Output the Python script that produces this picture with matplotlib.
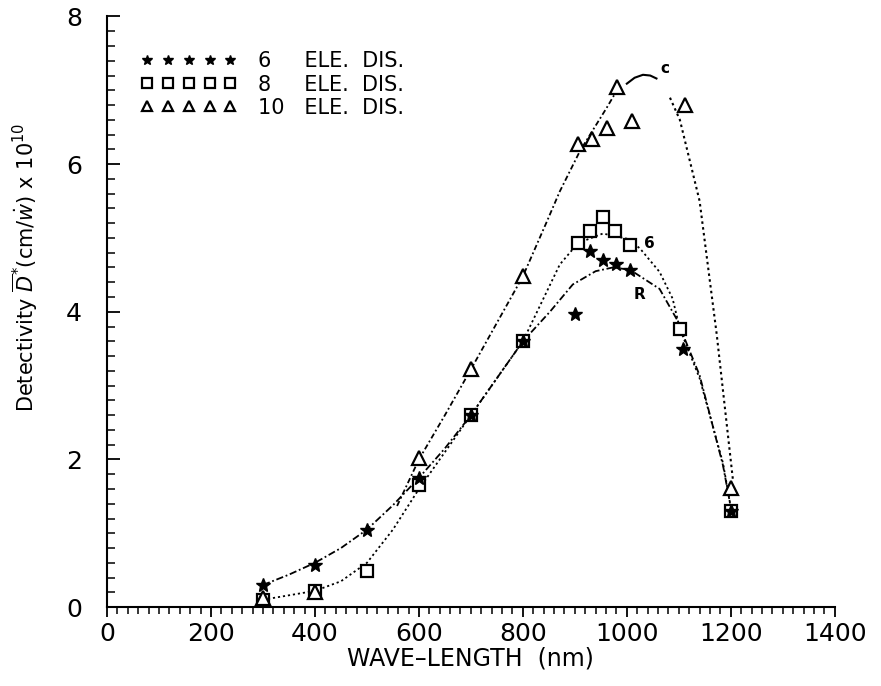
import numpy as np
from matplotlib import pyplot as plt
from matplotlib.ticker import MultipleLocator

# measured points (wavelength nm, detectivity x 1e10)
wl_6 = [300, 400, 500, 600, 700, 800, 900, 929, 954, 979, 1006, 1108, 1200]
det_6 = [0.30, 0.57, 1.05, 1.75, 2.60, 3.60, 3.97, 4.82, 4.70, 4.65, 4.57, 3.50, 1.30]

wl_8 = [300, 400, 500, 600, 700, 800, 906, 929, 954, 977, 1006, 1102, 1200]
det_8 = [0.10, 0.22, 0.49, 1.66, 2.60, 3.60, 4.93, 5.09, 5.29, 5.09, 4.91, 3.77, 1.30]

wl_10 = [300, 400, 600, 700, 800, 906, 933, 961, 981, 1010, 1112, 1200]
det_10 = [0.12, 0.20, 2.02, 3.22, 4.48, 6.27, 6.34, 6.49, 7.05, 6.58, 6.80, 1.62]

# hand drawn curves
curve_a_x = [300, 350, 400, 450, 500, 550, 600, 650, 700, 750, 800, 852, 896, 940, 973, 1006, 1063, 1096, 1140, 1185, 1200]
curve_a_y = [0.30, 0.44, 0.60, 0.80, 1.05, 1.38, 1.75, 2.15, 2.60, 3.10, 3.60, 4.00, 4.37, 4.55, 4.60, 4.57, 4.31, 3.90, 3.14, 1.92, 1.35]

curve_b_x = [300, 400, 450, 500, 550, 600, 650, 700, 750, 800, 871, 906, 954, 1000, 1025, 1063, 1088, 1102, 1140, 1185, 1200]
curve_b_y = [0.10, 0.22, 0.35, 0.60, 1.05, 1.60, 2.10, 2.60, 3.10, 3.60, 4.64, 4.93, 5.06, 4.99, 4.86, 4.54, 4.18, 3.77, 3.10, 1.95, 1.35]

curve_c1_x = [558, 600, 650, 700, 750, 800, 846, 871, 910, 961, 981]
curve_c1_y = [1.37, 2.00, 2.60, 3.22, 3.85, 4.48, 5.22, 5.63, 6.18, 6.76, 7.00]
curve_c2_x = [1000, 1015, 1031, 1045, 1057]
curve_c2_y = [7.09, 7.17, 7.21, 7.20, 7.16]
curve_c3_x = [1083, 1102, 1140, 1173, 1204]
curve_c3_y = [6.90, 6.60, 5.50, 3.69, 1.73]

curve_labels = ['R', '6', 'c']
label_x = [1025, 1044, 1073]
label_y = [4.24, 4.93, 7.30]

xticks = [0, 200, 400, 600, 800, 1000, 1200, 1400]
yticks = [0, 2, 4, 6, 8]

plt.rcParams['font.family'] = ['DejaVu Sans']

fig = plt.figure(figsize=(8.81, 6.86), dpi=100)
ax = fig.add_axes([0.1215, 0.115, 0.826, 0.861])

ls = (0, (1.2, 1.6))
ax.plot(curve_a_x, curve_a_y, color='black', lw=1.3, linestyle=(0, (4, 1.5, 1, 1.5)))
ax.plot(curve_b_x, curve_b_y, color='black', lw=1.3, linestyle=ls)
ax.plot(curve_c1_x, curve_c1_y, color='black', lw=1.3, linestyle=(0, (3, 1.5, 1, 1.5)))
ax.plot(curve_c2_x, curve_c2_y, color='black', lw=1.5)
ax.plot(curve_c3_x, curve_c3_y, color='black', lw=1.5, linestyle=ls)

ax.plot(wl_8, det_8, 's', ms=9, mfc='white', mec='black', mew=1.6, ls='none',
        label='8     ELE.  DIS.')
ax.plot(wl_10, det_10, '^', ms=10, mfc='white', mec='black', mew=1.6, ls='none',
        label='10   ELE.  DIS.')
ax.plot(wl_6, det_6, '*', ms=10, color='black', ls='none',
        label='6     ELE.  DIS.')

for t, x, y in zip(curve_labels, label_x, label_y):
    ax.text(x, y, t, fontsize=11, fontweight='bold', ha='center', va='center')

ax.set_xlim(0, 1400)
ax.set_ylim(0, 8)
ax.set_xticks(xticks)
ax.set_yticks(yticks)
ax.xaxis.set_minor_locator(MultipleLocator(20))
ax.yaxis.set_minor_locator(MultipleLocator(0.2))
ax.tick_params(axis='x', which='major', direction='out', length=7, width=1.3, labelsize=18, pad=4)
ax.tick_params(axis='x', which='minor', direction='out', length=5, width=1.1)
ax.tick_params(axis='y', which='major', direction='in', length=9, width=1.3, labelsize=18, pad=18)
ax.tick_params(axis='y', which='minor', direction='in', length=6, width=1.1)
for s in ['top', 'right']:
    ax.spines[s].set_visible(False)
ax.spines['left'].set_linewidth(1.5)
ax.spines['bottom'].set_linewidth(1.5)

ax.set_xlabel('WAVE\u2013LENGTH  (nm)', fontsize=17, labelpad=0)
ax.set_ylabel(r'Detectivity $\overline{D}^{*}$(cm/$\dot{w}$) x 10$^{10}$', fontsize=15)
ax.yaxis.set_label_coords(-0.092, 0.575)

h, l = ax.get_legend_handles_labels()
order = [2, 0, 1]
ax.legend([h[i] for i in order], [l[i] for i in order], loc='upper left',
          bbox_to_anchor=(0.035, 0.955), frameon=False, numpoints=5, markerscale=0.75,
          handlelength=4.6, handletextpad=1.0, labelspacing=0.15, fontsize=15,
          borderaxespad=0)

plt.savefig('out.png', dpi=100)
